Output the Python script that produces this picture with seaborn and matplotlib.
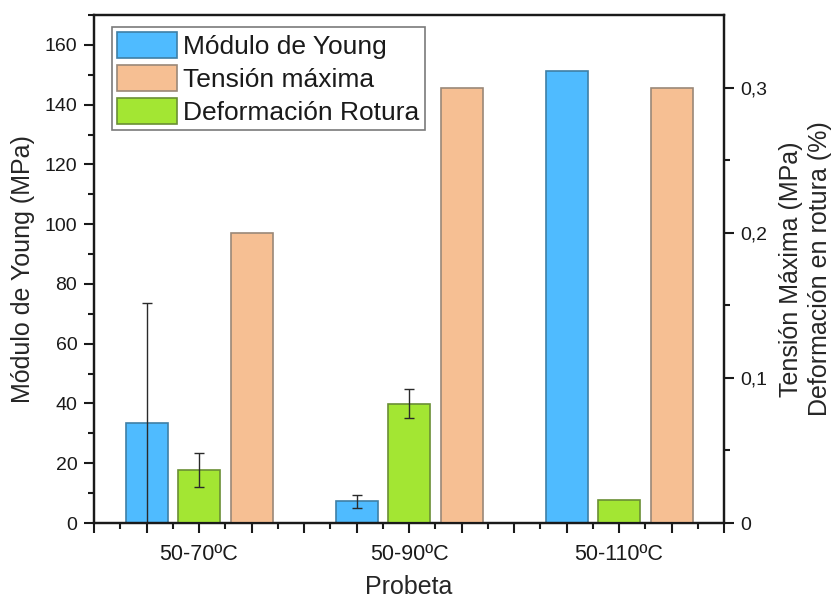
import matplotlib
matplotlib.use("Agg")
import matplotlib.pyplot as plt
from matplotlib.patches import Patch
from matplotlib.ticker import MultipleLocator, FixedLocator, FuncFormatter
import numpy as np
import pandas as pd
import seaborn as sns

# Data
probetas = ["50-70ºC", "50-90ºC", "50-110ºC"]
modulo_young = [33.5, 7.2, 151.4]          # MPa (left axis)
modulo_young_err = [40.0, 2.1, 0.0]
deformacion = [0.0365, 0.0823, 0.0156]     # % (right axis)
deformacion_err = [0.0117, 0.0101, 0.0]
tension_max = [0.2, 0.3, 0.3]              # MPa (right axis)

series_names = ["Módulo de Young", "Tensión máxima", "Deformación Rotura"]
c_blue, c_orange, c_green = "#4FBBFF", "#F6BF93", "#A3E633"
e_blue, e_orange, e_green = "#3F7FA6", "#9A8878", "#6A8F35"

sns.set_theme(style="ticks")
plt.rcParams["font.family"] = ["Liberation Sans", "DejaVu Sans"]
plt.rcParams["text.color"] = "#1a1a1a"

# numeric slot for each bar: three bars per group, one empty slot between groups
group_pos = np.arange(len(probetas)) * 4
x_blue = group_pos + 1
x_green = group_pos + 2
x_orange = group_pos + 3

df_left = pd.DataFrame({"x": x_blue, "y": modulo_young})
df_green = pd.DataFrame({"x": x_green, "y": deformacion})
df_orange = pd.DataFrame({"x": x_orange, "y": tension_max})

fig = plt.figure(figsize=(8.32, 5.99), dpi=100)
ax = fig.add_axes([94 / 832, 1 - 523 / 599, (724 - 94) / 832, (523 - 15) / 599])
ax2 = ax.twinx()

sns.barplot(data=df_left, x="x", y="y", native_scale=True, width=0.2,
            color=c_blue, edgecolor=e_blue, linewidth=1.2, saturation=1,
            errorbar=None, ax=ax)
sns.barplot(data=df_green, x="x", y="y", native_scale=True, width=0.2,
            color=c_green, edgecolor=e_green, linewidth=1.2, saturation=1,
            errorbar=None, ax=ax2)
sns.barplot(data=df_orange, x="x", y="y", native_scale=True, width=0.2,
            color=c_orange, edgecolor=e_orange, linewidth=1.2, saturation=1,
            errorbar=None, ax=ax2)

ekw = dict(fmt="none", ecolor="#2a2a2a", elinewidth=1.0, capsize=3.5, capthick=1.0)
mask = np.array(modulo_young_err) > 0
ax.errorbar(x_blue[mask], np.array(modulo_young)[mask],
            yerr=np.array(modulo_young_err)[mask], **ekw)
mask = np.array(deformacion_err) > 0
ax2.errorbar(x_green[mask], np.array(deformacion)[mask],
             yerr=np.array(deformacion_err)[mask], **ekw)

# Axes limits and ticks
ax.set_xlim(0, 12)
ax.set_ylim(0, 170)
ax2.set_ylim(0, 0.35)

ax.xaxis.set_minor_locator(MultipleLocator(0.5))
ax.set_xticks(np.arange(0, 13))
label_at = {int(p): name for p, name in zip(group_pos + 2, probetas)}
ax.set_xticklabels([label_at.get(i, "") for i in range(13)])
ax.yaxis.set_major_locator(MultipleLocator(20))
ax.yaxis.set_minor_locator(MultipleLocator(10))
ax2.yaxis.set_major_locator(FixedLocator([0, 0.1, 0.2, 0.3]))
ax2.yaxis.set_minor_locator(FixedLocator([0.05, 0.15, 0.25]))
ax2.yaxis.set_major_formatter(FuncFormatter(lambda v, p: "0" if v == 0 else f"{v:.1f}".replace(".", ",")))

for a in (ax, ax2):
    a.tick_params(axis="both", which="major", direction="out", length=7, width=1.5,
                  labelsize=14, colors="#1a1a1a", pad=5)
    a.tick_params(axis="both", which="minor", direction="out", length=4, width=1.5,
                  colors="#1a1a1a")
    for s in a.spines.values():
        s.set_linewidth(1.6)
        s.set_color("#1a1a1a")
    a.set_xlabel("")
    a.set_ylabel("")
    a.grid(False)

ax.tick_params(axis="x", pad=8, labelsize=15.5)

ax.set_xlabel("Probeta", fontsize=18, labelpad=7)
ax.set_ylabel("Módulo de Young (MPa)", fontsize=18, labelpad=7)
ax2.set_ylabel("Tensión Máxima (MPa)\nDeformación en rotura (%)", fontsize=18,
               labelpad=8, linespacing=1.3)

handles = [Patch(facecolor=c_blue, edgecolor=e_blue, linewidth=1.2),
           Patch(facecolor=c_orange, edgecolor=e_orange, linewidth=1.2),
           Patch(facecolor=c_green, edgecolor=e_green, linewidth=1.2)]
leg = ax2.legend(handles, series_names, loc="upper left",
                 bbox_to_anchor=(18 / 630, 1 - 12 / 508), fontsize=19,
                 handlelength=2.25, handleheight=1.15, labelspacing=0.22,
                 handletextpad=0.25, borderpad=0.2, borderaxespad=0,
                 frameon=True, fancybox=False, edgecolor="#7a7a7a", framealpha=1)
leg.get_frame().set_linewidth(1.2)

fig.savefig("out.png", dpi=100)
